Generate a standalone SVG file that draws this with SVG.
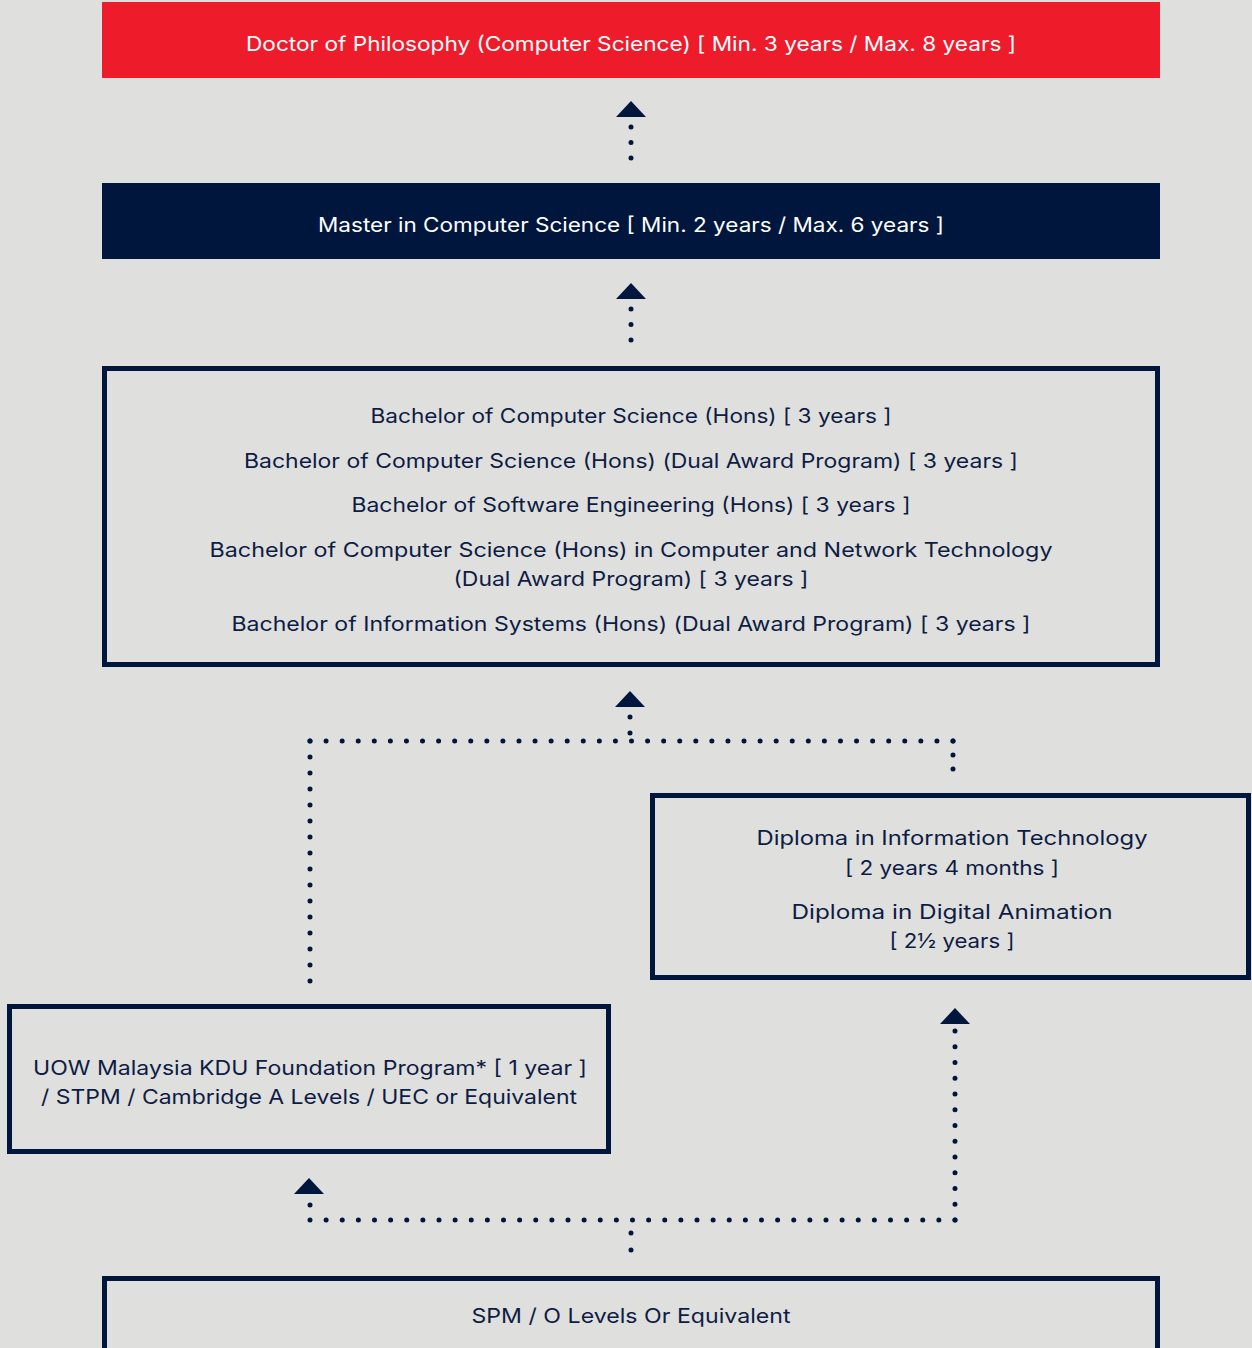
<svg xmlns="http://www.w3.org/2000/svg" width="1252" height="1348" viewBox="0 0 1252 1348">
<style>
.t{font-family:Inter,"Noto Sans","DejaVu Sans",sans-serif;font-size:20px;fill:#0e1c45;text-anchor:middle;font-weight:400}
.w{fill:#ffffff}
.box{fill:none;stroke:#00163d;stroke-width:5}
.dot{fill:none;stroke:#00163d;stroke-width:5;stroke-linecap:round}
.tri{fill:#00163d}
</style>
<rect width="1252" height="1348" fill="#dfe0dd"/>
<g id="phd">
<rect x="102" y="2" width="1058" height="76" fill="#ee1c2b"/>
<text class="t w" x="631" y="51" textLength="770" lengthAdjust="spacingAndGlyphs">Doctor of Philosophy (Computer Science) [ Min. 3 years / Max. 8 years ]</text>
</g>
<g id="master">
<rect x="102" y="183" width="1058" height="76" fill="#00163d"/>
<text class="t w" x="631" y="232" textLength="626" lengthAdjust="spacingAndGlyphs">Master in Computer Science [ Min. 2 years / Max. 6 years ]</text>
</g>
<g id="bachelor">
<rect class="box" x="104.5" y="368.5" width="1053" height="296"/>
<text class="t" x="631" y="423" textLength="521" lengthAdjust="spacingAndGlyphs">Bachelor of Computer Science (Hons) [ 3 years ]</text>
<text class="t" x="631" y="468" textLength="774" lengthAdjust="spacingAndGlyphs">Bachelor of Computer Science (Hons) (Dual Award Program) [ 3 years ]</text>
<text class="t" x="631" y="512" textLength="559" lengthAdjust="spacingAndGlyphs">Bachelor of Software Engineering (Hons) [ 3 years ]</text>
<text class="t" x="631" y="557" textLength="843" lengthAdjust="spacingAndGlyphs">Bachelor of Computer Science (Hons) in Computer and Network Technology</text>
<text class="t" x="631" y="586" textLength="355" lengthAdjust="spacingAndGlyphs">(Dual Award Program) [ 3 years ]</text>
<text class="t" x="631" y="631" textLength="799" lengthAdjust="spacingAndGlyphs">Bachelor of Information Systems (Hons) (Dual Award Program) [ 3 years ]</text>
</g>
<g id="diploma">
<rect class="box" x="652.5" y="795.5" width="596" height="182"/>
<text class="t" x="952" y="845" textLength="391" lengthAdjust="spacingAndGlyphs">Diploma in Information Technology</text>
<text class="t" x="952" y="875" textLength="214" lengthAdjust="spacingAndGlyphs">[ 2 years 4 months ]</text>
<text class="t" x="952" y="919" textLength="321" lengthAdjust="spacingAndGlyphs">Diploma in Digital Animation</text>
<text class="t" x="952" y="948" textLength="125" lengthAdjust="spacingAndGlyphs">[ 2½ years ]</text>
</g>
<g id="foundation">
<rect class="box" x="9.5" y="1006.5" width="599" height="145"/>
<text class="t" x="310" y="1075" textLength="554" lengthAdjust="spacingAndGlyphs">UOW Malaysia KDU Foundation Program* [ 1 year ]</text>
<text class="t" x="309" y="1104" textLength="536" lengthAdjust="spacingAndGlyphs">/ STPM / Cambridge A Levels / UEC or Equivalent</text>
</g>
<g id="spm">
<rect class="box" x="104.5" y="1278.5" width="1053" height="80"/>
<text class="t" x="631" y="1323" textLength="319" lengthAdjust="spacingAndGlyphs">SPM / O Levels Or Equivalent</text>
</g>
<g id="connectors">
<polygon class="tri" points="631,101 646,117 616,117"/>
<path class="dot" d="M631 127V158.5" stroke-dasharray="0 15.5"/>
<polygon class="tri" points="631,283 646,299 616,299"/>
<path class="dot" d="M631 309V340.5" stroke-dasharray="0 15.5"/>
<polygon class="tri" points="630,691 645,707 615,707"/>
<path class="dot" d="M630 717V733.5" stroke-dasharray="0 16"/>
<path class="dot" d="M310 741H953.5" stroke-dasharray="0 16.075"/>
<path class="dot" d="M310 741V981.5" stroke-dasharray="0 16"/>
<path class="dot" d="M953 741V769.5" stroke-dasharray="0 14"/>
<polygon class="tri" points="309,1178 324,1194 294,1194"/>
<path class="dot" d="M310 1205V1205.5" stroke-dasharray="0 16"/>
<path class="dot" d="M310 1220H955.5" stroke-dasharray="0 16.125"/>
<path class="dot" d="M955 1220V1030.5" stroke-dasharray="0 15.75"/>
<polygon class="tri" points="955,1008 970,1024 940,1024"/>
<path class="dot" d="M631 1233V1250.5" stroke-dasharray="0 17"/>
</g>
</svg>
